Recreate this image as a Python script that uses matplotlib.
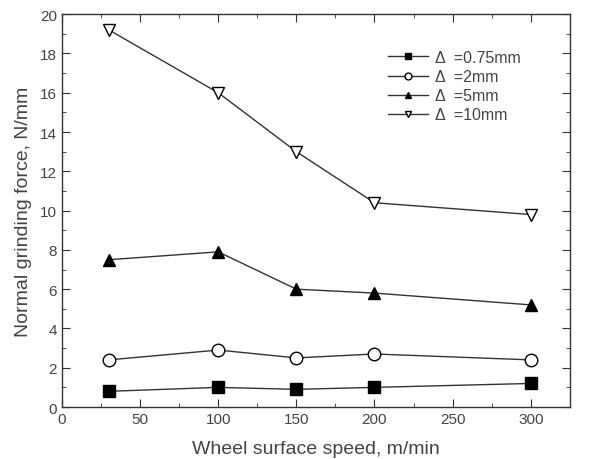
import matplotlib
matplotlib.use("Agg")
import matplotlib.pyplot as plt
from matplotlib.ticker import MultipleLocator

plt.rcParams['font.family'] = ['Liberation Sans', 'DejaVu Sans']

speed = [30, 100, 150, 200, 300]
f_075 = [0.8, 1.0, 0.9, 1.0, 1.2]
f_2 = [2.4, 2.9, 2.5, 2.7, 2.4]
f_5 = [7.5, 7.9, 6.0, 5.8, 5.2]
f_10 = [19.2, 16.0, 13.0, 10.4, 9.8]
labels = ["Δ  =0.75mm", "Δ  =2mm", "Δ  =5mm", "Δ  =10mm"]

txt = "#444444"
fig = plt.figure(figsize=(5.96, 4.6), dpi=100)
ax = fig.add_axes([0.104, 0.113, 0.852, 0.854])

styles = [("s", "black"), ("o", "white"), ("^", "black"), ("v", "white")]
for y, lab, (m, fc) in zip([f_075, f_2, f_5, f_10], labels, styles):
    ax.plot(speed, y, color="#333333", linewidth=1.0, marker=m, markersize=9,
            markerfacecolor=fc, markeredgecolor="black", markeredgewidth=1.0, label=lab)

ax.set_xlim(0, 325)
ax.set_ylim(0, 20)
ax.xaxis.set_major_locator(MultipleLocator(50))
ax.xaxis.set_minor_locator(MultipleLocator(25))
ax.yaxis.set_major_locator(MultipleLocator(2))
ax.yaxis.set_minor_locator(MultipleLocator(1))
ax.tick_params(which="both", direction="in", top=True, right=True, colors="#333333",
               labelcolor=txt, labelsize=11)
ax.tick_params(which="major", length=6)
ax.tick_params(which="minor", length=3)
for s in ax.spines.values():
    s.set_color("#333333")
    s.set_linewidth(1.0)

ax.set_xlabel("Wheel surface speed, m/min", fontsize=14, color=txt, labelpad=10)
ax.set_ylabel("Normal grinding force, N/mm", fontsize=14, color=txt, labelpad=6)

leg = ax.legend(loc="upper left", bbox_to_anchor=(0.63, 0.925), borderaxespad=0,
                frameon=False, fontsize=11.5, handlelength=2.5, handletextpad=0.4,
                markerscale=0.55, labelspacing=0.26)
for t in leg.get_texts():
    t.set_color(txt)

fig.savefig("out.png", dpi=100)
